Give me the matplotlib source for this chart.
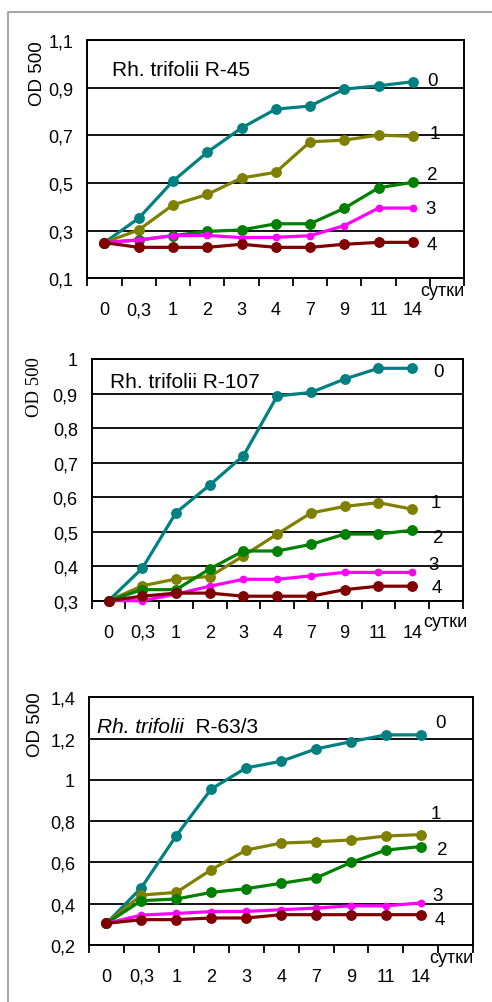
import matplotlib
matplotlib.use("Agg")
import matplotlib.pyplot as plt
from matplotlib.lines import Line2D
from matplotlib.ticker import FixedLocator, NullFormatter

plt.rcParams["font.family"] = ["Liberation Sans", "DejaVu Sans"]

# --- данные ---
days = ["0", "0,3", "1", "2", "3", "4", "7", "9", "11", "14"]

r45_0 = [0.25, 0.352, 0.508, 0.629, 0.731, 0.81, 0.823, 0.894, 0.908, 0.925]
r45_1 = [0.25, 0.303, 0.408, 0.452, 0.521, 0.545, 0.673, 0.680, 0.701, 0.696]
r45_2 = [0.25, 0.261, 0.279, 0.297, 0.303, 0.329, 0.329, 0.394, 0.480, 0.503]
r45_3 = [0.25, 0.261, 0.279, 0.280, 0.271, 0.272, 0.279, 0.321, 0.395, 0.395]
r45_4 = [0.25, 0.230, 0.230, 0.230, 0.243, 0.230, 0.230, 0.243, 0.251, 0.251]

r107_0 = [0.30, 0.394, 0.555, 0.635, 0.720, 0.893, 0.903, 0.942, 0.973, 0.973]
r107_1 = [0.30, 0.343, 0.363, 0.370, 0.430, 0.493, 0.554, 0.573, 0.584, 0.565]
r107_2 = [0.30, 0.332, 0.332, 0.392, 0.444, 0.444, 0.463, 0.493, 0.493, 0.504]
r107_3 = [0.30, 0.300, 0.319, 0.342, 0.362, 0.362, 0.372, 0.382, 0.382, 0.382]
r107_4 = [0.30, 0.313, 0.322, 0.322, 0.313, 0.313, 0.313, 0.332, 0.342, 0.342]

r63_0 = [0.305, 0.478, 0.730, 0.956, 1.058, 1.090, 1.150, 1.185, 1.218, 1.218]
r63_1 = [0.305, 0.442, 0.455, 0.565, 0.660, 0.694, 0.700, 0.709, 0.728, 0.735]
r63_2 = [0.305, 0.415, 0.423, 0.455, 0.473, 0.499, 0.525, 0.600, 0.660, 0.677]
r63_3 = [0.305, 0.345, 0.353, 0.362, 0.363, 0.371, 0.379, 0.390, 0.390, 0.404]
r63_4 = [0.305, 0.323, 0.323, 0.331, 0.331, 0.347, 0.347, 0.347, 0.347, 0.347]

# --- оформление ---
colors = ["#008080", "#808000", "#008000", "#ff00ff", "#800000"]
msizes = [6.8, 6.8, 6.8, 4.6, 6.8]

panels = [
    dict(rect=[0.1774, 0.7215, 0.7663, 0.2376], series=[r45_0, r45_1, r45_2, r45_3, r45_4],
         ylim=(0.1, 1.1), yticks=[0.1, 0.3, 0.5, 0.7, 0.9, 1.1],
         title="Rh. trifolii R-45", title_xy=(0.065, 0.878),
         lab_x=[9.93, 9.98, 9.9, 9.86, 9.9], lab_y=[0.929, 0.706, 0.534, 0.391, 0.24],
         ylab_xy=(38, 73.5), ylab_serif=False, days_xy=(1.0, -0.052)),
    dict(rect=[0.1864, 0.4001, 0.7541, 0.2410], series=[r107_0, r107_1, r107_2, r107_3, r107_4],
         ylim=(0.3, 1.0), yticks=[0.3, 0.4, 0.5, 0.6, 0.7, 0.8, 0.9, 1.0],
         title="Rh. trifolii R-107", title_xy=(0.049, 0.908),
         lab_x=[10.13, 10.04, 10.13, 9.98, 10.07], lab_y=[0.964, 0.583, 0.483, 0.406, 0.339],
         ylab_xy=(34.3, 387.5), ylab_serif=True, days_xy=(1.014, -0.087)),
    dict(rect=[0.1809, 0.0568, 0.7811, 0.2470], series=[r63_0, r63_1, r63_2, r63_3, r63_4],
         ylim=(0.2, 1.4), yticks=[0.2, 0.4, 0.6, 0.8, 1.0, 1.2, 1.4],
         title=None, title_xy=(0.021, 0.883),
         lab_x=[9.91, 9.77, 9.96, 9.82, 9.9], lab_y=[1.279, 0.835, 0.665, 0.439, 0.326],
         ylab_xy=(36, 724.2), ylab_serif=False, days_xy=(1.0, -0.05)),
]

W, H = 492, 1003
fig = plt.figure(figsize=(W / 100, H / 100), dpi=100)

# серая рамка вокруг рисунка
fig.add_artist(Line2D([8.3 / W, 8.3 / W, 1.02], [-0.02, 1 - 12.7 / H, 1 - 12.7 / H],
                      transform=fig.transFigure, color="#a6a6a6", lw=1.5))

xs = [i + 0.5 for i in range(len(days))]

for p in panels:
    ax = fig.add_axes(p["rect"])
    ax.set_xlim(0, len(days) + 1)
    ax.set_ylim(*p["ylim"])

    for vals, c, ms in zip(p["series"], colors, msizes):
        ax.plot(xs, vals, color=c, lw=2.3, marker="o", ms=ms, mec=c, mfc=c,
                clip_on=False, zorder=3)

    for k, (lx, ly) in enumerate(zip(p["lab_x"], p["lab_y"])):
        ax.text(lx, ly, str(k), fontsize=13.5, ha="left", va="center")

    # оси
    ax.set_yticks(p["yticks"])
    ax.set_yticklabels([f"{v:g}".replace(".", ",") for v in p["yticks"]])
    ax.tick_params(axis="y", length=0, pad=10, labelsize=13)
    ax.yaxis.grid(True, color="black", lw=1.3)
    ax.set_axisbelow(True)

    ax.xaxis.set_major_locator(FixedLocator(range(len(days) + 2)))
    ax.xaxis.set_major_formatter(NullFormatter())
    ax.xaxis.set_minor_locator(FixedLocator(xs))
    ax.set_xticklabels(days, minor=True)
    ax.tick_params(axis="x", which="major", direction="out", length=5.5, width=1.3)
    ax.tick_params(axis="x", which="minor", length=0, pad=16.5, labelsize=13)

    for s in ax.spines.values():
        s.set_linewidth(1.4)

    ax.text(p["days_xy"][0], p["days_xy"][1], "сутки", transform=ax.transAxes,
            fontsize=13, ha="right", va="center")

    # подпись образца
    tx, ty = p["title_xy"]
    if p["title"]:
        ax.text(tx, ty, p["title"], transform=ax.transAxes, fontsize=15,
                ha="left", va="center")
    else:
        t1 = ax.text(tx, ty, "Rh. trifolii", transform=ax.transAxes, fontsize=15,
                     ha="left", va="center", style="italic")
        ax.annotate("  R-63/3", xy=(1, 0.5), xycoords=t1, fontsize=15,
                    ha="left", va="center")

    fam = ["Liberation Serif", "DejaVu Serif"] if p["ylab_serif"] else ["Liberation Sans", "DejaVu Sans"]
    fig.text(p["ylab_xy"][0] / W, 1 - p["ylab_xy"][1] / H, "OD 500", rotation=90,
             ha="center", va="center", fontsize=13.5, family=fam)

fig.savefig("out.png", dpi=100)
